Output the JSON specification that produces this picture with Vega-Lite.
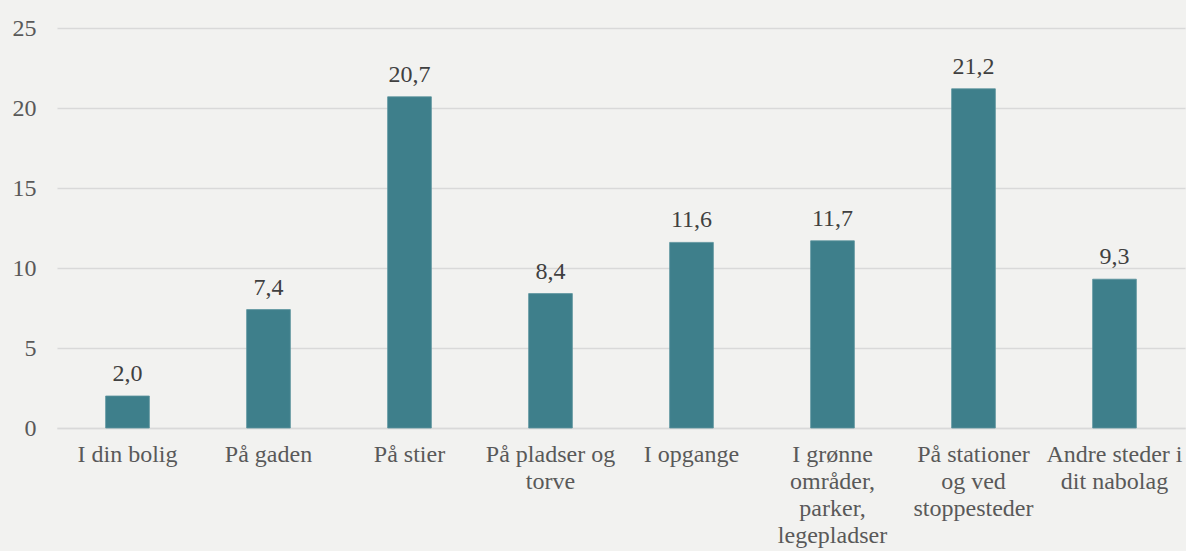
{
  "$schema": "https://vega.github.io/schema/vega-lite/v6.json",
  "width": 1128,
  "height": 400,
  "autosize": "none",
  "padding": {"left": 57, "top": 28, "right": 1, "bottom": 123},
  "background": "#f2f2f0",
  "config": {
    "view": {"stroke": null},
    "font": "serif",
    "locale": {"number": {"decimal": ",", "thousands": ".", "grouping": [3], "currency": ["", " kr"]}}
  },
  "data": {
    "values": [
      {"sted": "I din bolig", "andel": 2.0},
      {"sted": "På gaden", "andel": 7.4},
      {"sted": "På stier", "andel": 20.7},
      {"sted": "På pladser og torve", "andel": 8.4},
      {"sted": "I opgange", "andel": 11.6},
      {"sted": "I grønne områder, parker, legepladser", "andel": 11.7},
      {"sted": "På stationer og ved stoppesteder", "andel": 21.2},
      {"sted": "Andre steder i dit nabolag", "andel": 9.3}
    ]
  },
  "encoding": {
    "x": {
      "field": "sted",
      "type": "nominal",
      "sort": null,
      "scale": {"paddingInner": 0.69, "paddingOuter": 0.345},
      "axis": {
        "title": null,
        "labelAngle": 0,
        "ticks": false,
        "domain": true,
        "domainColor": "#d9d9d9",
        "domainWidth": 1.5,
        "labelFont": "serif",
        "labelFontSize": 24,
        "labelColor": "#595959",
        "labelPadding": 14,
        "labelLineHeight": 27,
        "labelLimit": 300,
        "labelExpr": "datum.label == 'På pladser og torve' ? ['På pladser og', 'torve'] : datum.label == 'I grønne områder, parker, legepladser' ? ['I grønne', 'områder,', 'parker,', 'legepladser'] : datum.label == 'På stationer og ved stoppesteder' ? ['På stationer', 'og ved', 'stoppesteder'] : datum.label == 'Andre steder i dit nabolag' ? ['Andre steder i', 'dit nabolag'] : datum.label"
      }
    },
    "y": {
      "field": "andel",
      "type": "quantitative",
      "scale": {"domain": [0, 25], "nice": false},
      "axis": {
        "title": null,
        "values": [0, 5, 10, 15, 20, 25],
        "domain": false,
        "ticks": false,
        "gridColor": "#d9d9d9",
        "gridWidth": 1.5,
        "labelFont": "serif",
        "labelFontSize": 24,
        "labelColor": "#595959",
        "labelPadding": 21
      }
    }
  },
  "layer": [
    {"mark": {"type": "bar", "color": "#3e7f8b", "stroke": "#5a939d", "strokeWidth": 0.8}},
    {
      "mark": {"type": "text", "baseline": "alphabetic", "dy": -15, "font": "serif", "fontSize": 24, "color": "#404040"},
      "encoding": {"text": {"field": "andel", "type": "quantitative", "format": ".1f"}}
    }
  ]
}
